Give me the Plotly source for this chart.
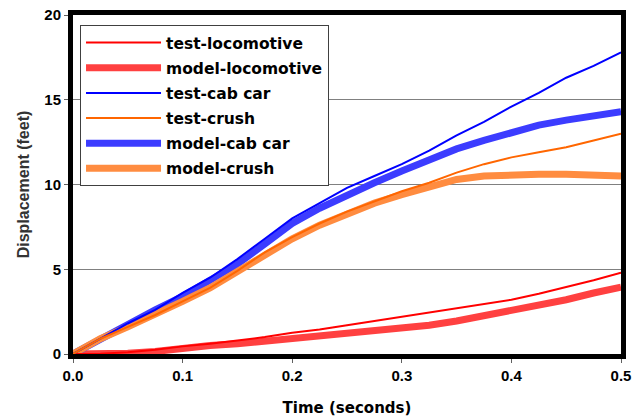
import plotly.graph_objects as go

t = [0, 0.025, 0.05, 0.075, 0.1, 0.125, 0.15, 0.175, 0.2, 0.225, 0.25,
     0.275, 0.3, 0.325, 0.35, 0.375, 0.4, 0.425, 0.45, 0.475, 0.5]

test_loco = [0, 0.02, 0.1, 0.25, 0.45, 0.6, 0.8, 1.0, 1.25, 1.45, 1.7,
             1.95, 2.2, 2.45, 2.7, 2.95, 3.2, 3.55, 3.95, 4.35, 4.8]
model_loco = [0, 0.0, 0.05, 0.15, 0.35, 0.5, 0.6, 0.75, 0.9, 1.05, 1.2,
              1.35, 1.5, 1.7, 1.95, 2.25, 2.6, 2.9, 3.2, 3.6, 3.95]
test_cab = [0, 0.9, 1.8, 2.6, 3.6, 4.5, 5.6, 6.8, 8.0, 8.9, 9.8,
            10.5, 11.2, 12.0, 12.9, 13.7, 14.6, 15.4, 16.3, 17.0, 17.8]
model_cab = [0, 0.9, 1.7, 2.6, 3.4, 4.3, 5.3, 6.5, 7.7, 8.6, 9.4,
             10.1, 10.8, 11.5, 12.1, 12.6, 13.1, 13.5, 13.8, 14.1, 14.3]
test_crush = [0, 0.9, 1.6, 2.3, 3.1, 3.9, 4.9, 6.0, 6.9, 7.7, 8.4,
              9.0, 9.6, 10.1, 10.7, 11.2, 11.6, 11.9, 12.2, 12.6, 13.0]
model_crush = [0, 0.9, 1.6, 2.3, 3.1, 3.9, 4.9, 5.9, 6.8, 7.6, 8.3,
               8.9, 9.4, 9.9, 10.3, 10.5, 10.6, 10.6, 10.6, 10.5, 10.5]

x_ticks = [0, 0.1, 0.2, 0.3, 0.4, 0.5]
x_tick_labels = ["0.0", "0.1", "0.2", "0.3", "0.4", "0.5"]
y_ticks = [0, 5, 10, 15, 20]

series = [
    # name, data, color, width, legend rank
    ("model-locomotive", model_loco, "#FF4040", 7, 2),
    ("model-cab car", model_cab, "#3C3CFF", 7, 5),
    ("model-crush", model_crush, "#FF8C40", 7, 6),
    ("test-locomotive", test_loco, "#FF0000", 2, 1),
    ("test-cab car", test_cab, "#0000FF", 2, 3),
    ("test-crush", test_crush, "#FF6600", 2, 4),
]

fig = go.Figure()
for name, data, color, w, rank in series:
    fig.add_trace(go.Scatter(x=t, y=data, mode="lines", name=name,
                             line=dict(color=color, width=w),
                             legendrank=rank, legendgroup=name))

font = "Liberation Sans, Arial, sans-serif"
wide = "DejaVu Sans, sans-serif"
fig.update_layout(
    width=633, height=420,
    margin=dict(l=73, r=12, t=15, b=66),
    paper_bgcolor="white", plot_bgcolor="white",
    font=dict(family=font, color="black"),
    showlegend=True,
    legend=dict(x=0.0128, y=0.9705, xanchor="left", yanchor="top",
                bgcolor="white", bordercolor="#404040", borderwidth=1,
                font=dict(size=15.5, family=wide, weight="bold"),
                tracegroupgap=2, itemwidth=75),
    xaxis=dict(range=[0, 0.5], tickvals=x_ticks, ticktext=x_tick_labels,
               automargin=False,
               showgrid=False, zeroline=False,
               showline=True, linecolor="black", linewidth=5, mirror=True,
               ticks="outside", ticklen=4, tickcolor="#606060",
               tickfont=dict(size=15, weight="bold"),
               title=dict(text="Time (seconds)",
                          font=dict(size=15, family=wide, weight="bold"),
                          standoff=21)),
    yaxis=dict(range=[0, 20], tickvals=y_ticks, automargin=False,
               showgrid=True, gridcolor="#808080", gridwidth=1, zeroline=False,
               showline=True, linecolor="black", linewidth=5, mirror=True,
               ticks="outside", ticklen=4, tickcolor="#606060",
               tickfont=dict(size=15, weight="bold"),
               title=dict(text="Displacement (feet)",
                          font=dict(size=16, weight="bold", color="#333333"),
                          standoff=12)),
)

fig.write_html("out.html")
